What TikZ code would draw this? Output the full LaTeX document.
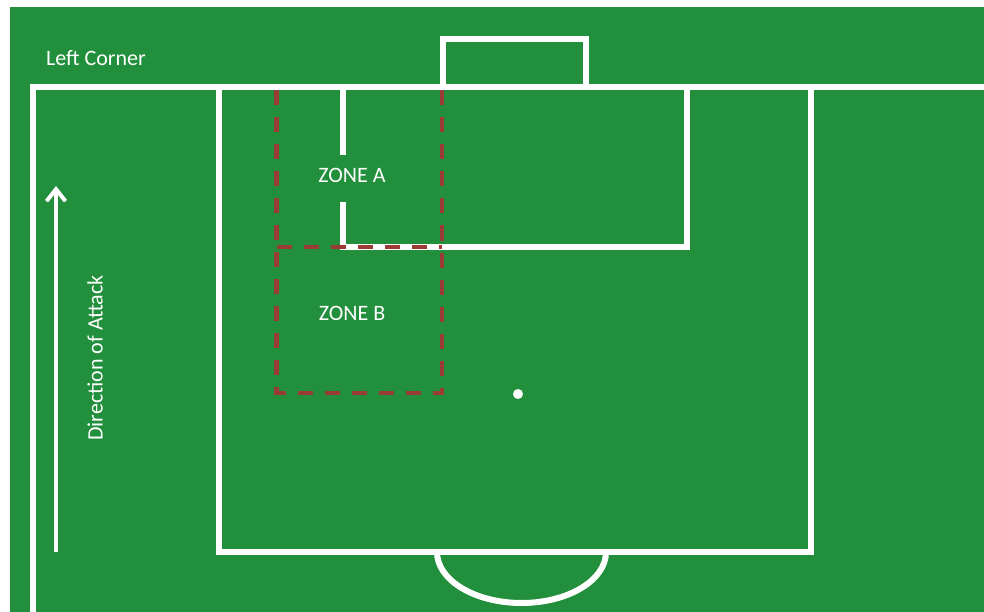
\documentclass[tikz,border=0pt]{standalone}
\usepackage{fontspec}
\setmainfont{Carlito}
\usetikzlibrary{arrows.meta}
\definecolor{pitchgreen}{HTML}{218F3B}
\definecolor{zonered}{HTML}{9A3B36}

\begin{document}
\begin{tikzpicture}[x=1pt,y=-1pt,>={Straight Barb[length=12pt,width=19pt]}]
\tikzset{pitchline/.style={white,line width=6pt},
  zoneline/.style={zonered,line width=4.5pt,dash pattern=on 15pt off 12pt},
  lbl/.style={text=white,font=\fontsize{22}{26}\selectfont,inner sep=0pt}}
\useasboundingbox (0,0) rectangle (984,612);
\fill[pitchgreen] (10,7) rectangle (984,612);
% touchline and goal line
\draw[pitchline] (32.5,612) -- (32.5,87) -- (984,87);
% goal
\draw[pitchline] (443,87) -- (443,39.5) -- (586,39.5) -- (586,87);
% penalty area
\draw[pitchline] (218.5,87) -- (218.5,552) -- (810.5,552) -- (810.5,87);
% goal area, left side broken for the label
\draw[pitchline] (342.5,87) -- (342.5,155);
\draw[pitchline] (342.5,202) -- (342.5,247) -- (686.5,247) -- (686.5,87);
% arc and spot
\draw[pitchline] (437,552) arc[start angle=180,end angle=360,x radius=84.5pt,y radius=51pt];
\fill[white] (518,394) circle[radius=5pt];
% zones
\draw[zoneline] (276.5,90) -- (276.5,393) -- (442,393) -- (442,90);
\draw[zoneline] (276.5,247) -- (442,247);
\node[lbl] (corner) at (96,58) {Left Corner};
\node[lbl] (zoneA) at (352,175) {ZONE A};
\node[lbl] (zoneB) at (352,313) {ZONE B};
\node[lbl,rotate=90] (attack) at (95,358) {Direction of Attack};
\coordinate (tail) at (56,552);
\coordinate (tip) at (56,186);
\draw[->,white,line width=4pt] (tail) -- (tip);
\end{tikzpicture}
\end{document}
